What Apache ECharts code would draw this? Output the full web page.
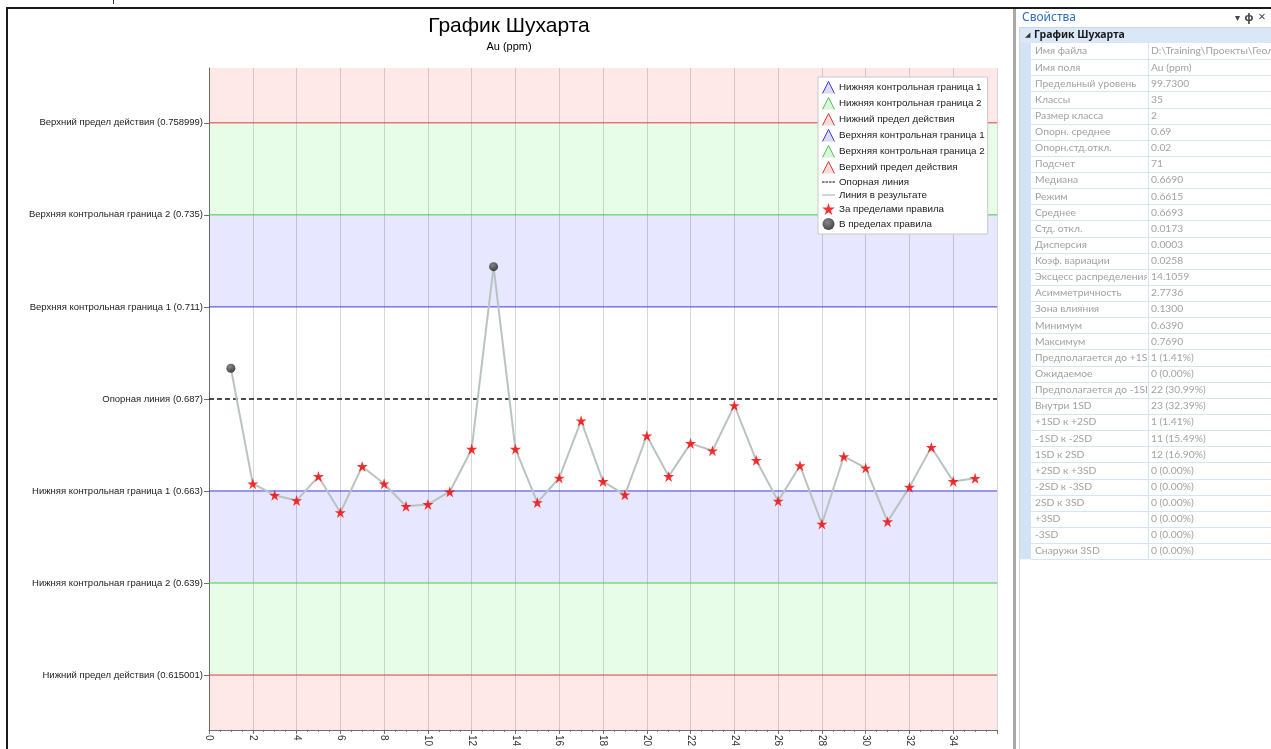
<!DOCTYPE html>
<html>
<head>
<meta charset="utf-8">
<title>График Шухарта</title>
<script src="https://cdn.jsdelivr.net/npm/echarts@6/dist/echarts.min.js"></script>
<style>
  html, body { margin: 0; padding: 0; background: #fff; }
  #chart { width: 1271px; height: 749px; }
</style>
</head>
<body>
<div id="chart"></div>
<script>
// ---- Data ----
const classes = [1, 2, 3, 4, 5, 6, 7, 8, 9, 10, 11, 12, 13, 14, 15, 16, 17, 18,
  19, 20, 21, 22, 23, 24, 25, 26, 27, 28, 29, 30, 31, 32, 33, 34, 35];
const auValues = [0.6950, 0.6649, 0.6619, 0.6605, 0.6668, 0.6574, 0.6694, 0.6649,
  0.6590, 0.6595, 0.6628, 0.6739, 0.7215, 0.6739, 0.6600, 0.6664, 0.6813, 0.6655,
  0.6620, 0.6774, 0.6668, 0.6754, 0.6735, 0.6853, 0.6710, 0.6604, 0.6696, 0.6544,
  0.6720, 0.6690, 0.6550, 0.6640, 0.6744, 0.6655, 0.6663];
// classes whose points satisfy the rule (drawn as dark circles)
const withinRuleClasses = [1, 13];

const referenceValue = 0.687;
const limitNames = ['Верхний предел действия', 'Верхняя контрольная граница 2',
  'Верхняя контрольная граница 1', 'Опорная линия', 'Нижняя контрольная граница 1',
  'Нижняя контрольная граница 2', 'Нижний предел действия'];
const limitValues = [0.758999, 0.735, 0.711, 0.687, 0.663, 0.639, 0.615001];
const limitValueText = ['0.758999', '0.735', '0.711', '0.687', '0.663', '0.639', '0.615001'];

const legendNames = ['Нижняя контрольная граница 1', 'Нижняя контрольная граница 2',
  'Нижний предел действия', 'Верхняя контрольная граница 1', 'Верхняя контрольная граница 2',
  'Верхний предел действия', 'Опорная линия', 'Линия в результате',
  'За пределами правила', 'В пределах правила'];

const propNames = ['Имя файла', 'Имя поля', 'Предельный уровень', 'Классы', 'Размер класса',
  'Опорн. среднее', 'Опорн.стд.откл.', 'Подсчет', 'Медиана', 'Режим', 'Среднее',
  'Стд. откл.', 'Дисперсия', 'Коэф. вариации', 'Эксцесс распределения', 'Асимметричность',
  'Зона влияния', 'Минимум', 'Максимум', 'Предполагается до +1SD', 'Ожидаемое',
  'Предполагается до -1SD', 'Внутри 1SD', '+1SD к +2SD', '-1SD к -2SD', '1SD к 2SD',
  '+2SD к +3SD', '-2SD к -3SD', '2SD к 3SD', '+3SD', '-3SD', 'Снаружи 3SD'];
const propValues = ['D:\\Training\\Проекты\\Геология\\Au.csv', 'Au (ppm)', '99.7300', '35', '2',
  '0.69', '0.02', '71', '0.6690', '0.6615', '0.6693', '0.0173', '0.0003', '0.0258',
  '14.1059', '2.7736', '0.1300', '0.6390', '0.7690', '1 (1.41%)', '0 (0.00%)',
  '22 (30.99%)', '23 (32.39%)', '1 (1.41%)', '11 (15.49%)', '12 (16.90%)', '0 (0.00%)',
  '0 (0.00%)', '0 (0.00%)', '0 (0.00%)', '0 (0.00%)', '0 (0.00%)'];

// ---- Styling ----
const X_MIN = 0, X_MAX = 36;
const Y_MIN = 0.6007, Y_MAX = 0.7733;
const BLUE = '#3c3cdc', GREEN = '#4cc84c', RED = '#dc3c3c';
const BAND_RED = 'rgba(255,0,0,0.09)';
const BAND_GREEN = 'rgba(0,230,0,0.09)';
const BAND_BLUE = 'rgba(0,0,255,0.095)';
const STAR = 'path://M50,0L61.2,34.5L97.6,34.5L68.2,55.9L79.4,90.5L50,69.1L20.6,90.5L31.8,55.9L2.4,34.5L38.8,34.5Z';
const CHEVRON = 'path://M0,10L5,0L10,10';
const DASHES = 'path://M0,0h3v1h-3zM4,0h3v1h-3zM8,0h3v1h-3zM12,0h3v1h-3z';
const BAR = 'path://M0,0h15v1.3h-15z';
const FONT = '"Liberation Sans", Arial, sans-serif';
const UI_FONT = 'Lato, "Noto Sans", sans-serif';

const lineStyleOf = {
  'Нижняя контрольная граница 1': [0.663, BLUE],
  'Нижняя контрольная граница 2': [0.639, GREEN],
  'Нижний предел действия': [0.615001, RED],
  'Верхняя контрольная граница 1': [0.711, BLUE],
  'Верхняя контрольная граница 2': [0.735, GREEN],
  'Верхний предел действия': [0.758999, RED]
};

const withinSet = new Set(withinRuleClasses);
const resultPoints = classes.map((c, i) => [c, auValues[i]]);
const outsidePoints = resultPoints.filter(p => !withinSet.has(p[0]));
const insidePoints = resultPoints.filter(p => withinSet.has(p[0]));

const series = [];
// coloured zones between the limits
series.push({
  type: 'line', data: [], z: 1, silent: true,
  markArea: {
    silent: true,
    itemStyle: { borderWidth: 0 },
    data: [
      [{ yAxis: 0.758999, itemStyle: { color: BAND_RED } }, { yAxis: Y_MAX }],
      [{ yAxis: 0.735, itemStyle: { color: BAND_GREEN } }, { yAxis: 0.758999 }],
      [{ yAxis: 0.711, itemStyle: { color: BAND_BLUE } }, { yAxis: 0.735 }],
      [{ yAxis: 0.639, itemStyle: { color: BAND_BLUE } }, { yAxis: 0.663 }],
      [{ yAxis: 0.615001, itemStyle: { color: BAND_GREEN } }, { yAxis: 0.639 }],
      [{ yAxis: Y_MIN, itemStyle: { color: BAND_RED } }, { yAxis: 0.615001 }]
    ]
  }
});
Object.keys(lineStyleOf).forEach(name => {
  const [v, col] = lineStyleOf[name];
  series.push({
    name, type: 'line', z: 3, symbol: 'none', silent: true,
    data: [[X_MIN, v], [X_MAX, v]],
    lineStyle: { color: col, width: 1 },
    itemStyle: { color: col }
  });
});
series.push({
  name: 'Опорная линия', type: 'line', z: 4, symbol: 'none', silent: true,
  data: [[X_MIN, referenceValue], [X_MAX, referenceValue]],
  lineStyle: { color: '#111', width: 1.6, type: [5, 3] },
  itemStyle: { color: '#111' }
});
series.push({
  name: 'Линия в результате', type: 'line', z: 5, symbol: 'none', silent: true,
  data: resultPoints,
  lineStyle: { color: '#b9c4c1', width: 2 },
  itemStyle: { color: '#b9c4c1' }
});
series.push({
  name: 'За пределами правила', type: 'scatter', z: 6, silent: true,
  symbol: STAR, symbolSize: 11,
  data: outsidePoints,
  itemStyle: { color: '#f20000' }
});
series.push({
  name: 'В пределах правила', type: 'scatter', z: 6, silent: true,
  symbol: 'circle', symbolSize: 9,
  data: insidePoints,
  itemStyle: {
    color: {
      type: 'radial', x: 0.4, y: 0.35, r: 0.7,
      colorStops: [{ offset: 0, color: '#6a6a6a' }, { offset: 1, color: '#141414' }]
    }
  }
});

const legendData = legendNames.map(name => {
  if (lineStyleOf[name]) {
    const col = lineStyleOf[name][1];
    return { name, icon: CHEVRON, itemStyle: { color: col + '30', borderColor: col, borderWidth: 1 } };
  }
  if (name === 'Опорная линия') return { name, icon: DASHES, itemStyle: { color: '#111', borderWidth: 0 } };
  if (name === 'Линия в результате') return { name, icon: BAR, itemStyle: { color: '#a9b6b2', borderWidth: 0 } };
  if (name === 'За пределами правила') return { name, icon: STAR, itemStyle: { color: '#f20000' } };
  return { name, icon: 'circle' };
});

// ---- Frame, title and the properties panel ----
const graphics = [];
graphics.push({ type: 'text', x: 509, y: 26, z: 10,
  style: { text: 'График Шухарта', font: '21px ' + FONT, fill: '#000', align: 'center', verticalAlign: 'middle' } });
graphics.push({ type: 'text', x: 509, y: 47, z: 10,
  style: { text: 'Au (ppm)', font: '11px ' + FONT, fill: '#000', align: 'center', verticalAlign: 'middle' } });
graphics.push({ type: 'line', z: 10, shape: { x1: 6, y1: 8, x2: 1271, y2: 8 }, style: { stroke: '#1a1a1a', lineWidth: 2 } });
graphics.push({ type: 'line', z: 10, shape: { x1: 7, y1: 8, x2: 7, y2: 749 }, style: { stroke: '#1a1a1a', lineWidth: 2 } });
graphics.push({ type: 'line', z: 10, shape: { x1: 113.5, y1: 0, x2: 113.5, y2: 4 }, style: { stroke: '#333', lineWidth: 1 } });
// splitter
graphics.push({ type: 'rect', z: 10, shape: { x: 1013, y: 9, width: 3, height: 740 }, style: { fill: '#a9a9a9' } });
graphics.push({ type: 'line', z: 10, shape: { x1: 1019.5, y1: 27, x2: 1019.5, y2: 749 }, style: { stroke: '#d4d4d4', lineWidth: 1 } });
// header
graphics.push({ type: 'text', z: 11, x: 1022, y: 18,
  style: { text: 'Свойства', font: '12px "Noto Sans", sans-serif', fill: '#2c6fbd', verticalAlign: 'middle' } });
graphics.push({ type: 'text', z: 11, x: 1237, y: 18,
  style: { text: '▾', font: '10px "Noto Sans", sans-serif', fill: '#444', align: 'center', verticalAlign: 'middle' } });
graphics.push({ type: 'text', z: 11, x: 1249, y: 18,
  style: { text: 'ф', font: 'bold 11px "Noto Sans", sans-serif', fill: '#444', align: 'center', verticalAlign: 'middle' } });
graphics.push({ type: 'text', z: 11, x: 1262, y: 17,
  style: { text: '×', font: '13px "Noto Sans", sans-serif', fill: '#444', align: 'center', verticalAlign: 'middle' } });
// category row
graphics.push({ type: 'rect', z: 10, shape: { x: 1020, y: 27, width: 251, height: 16 }, style: { fill: '#d9e7f6' } });
graphics.push({ type: 'line', z: 10, shape: { x1: 1020, y1: 27.5, x2: 1271, y2: 27.5 }, style: { stroke: '#c6d9ee', lineWidth: 1 } });
graphics.push({ type: 'text', z: 11, x: 1025, y: 35,
  style: { text: '◢', font: '7px "Noto Sans", sans-serif', fill: '#333', verticalAlign: 'middle' } });
graphics.push({ type: 'text', z: 11, x: 1034, y: 35,
  style: { text: 'График Шухарта', font: 'bold 10.5px "Noto Sans", sans-serif', fill: '#1a1a1a', verticalAlign: 'middle' } });
// property rows: names at z 11, value cells (white) drawn over any overflowing name text
const ROW_TOP = 43, ROW_H = 16.13;
const rowsBottom = ROW_TOP + propNames.length * ROW_H;
graphics.push({ type: 'rect', z: 10, shape: { x: 1020, y: ROW_TOP, width: 11, height: rowsBottom - ROW_TOP }, style: { fill: '#d2e3f5' } });
graphics.push({ type: 'rect', z: 12, shape: { x: 1147, y: ROW_TOP, width: 124, height: rowsBottom - ROW_TOP }, style: { fill: '#fff' } });
propNames.forEach((name, i) => {
  const y = ROW_TOP + i * ROW_H;
  graphics.push({ type: 'line', z: 13, shape: { x1: 1031, y1: Math.round(y + ROW_H) + 0.5, x2: 1271, y2: Math.round(y + ROW_H) + 0.5 },
    style: { stroke: '#d6e5f4', lineWidth: 1 } });
  graphics.push({ type: 'text', z: 11, x: 1035, y: y + ROW_H / 2,
    style: { text: name, font: '10.3px ' + UI_FONT, fill: '#a2a2a2', verticalAlign: 'middle' } });
  graphics.push({ type: 'text', z: 14, x: 1151, y: y + ROW_H / 2,
    style: { text: propValues[i], font: '10.3px ' + UI_FONT, fill: '#a2a2a2', verticalAlign: 'middle' } });
});
graphics.push({ type: 'line', z: 13, shape: { x1: 1148.5, y1: ROW_TOP, x2: 1148.5, y2: rowsBottom }, style: { stroke: '#d6e5f4', lineWidth: 1 } });

const option = {
  animation: false,
  backgroundColor: '#fff',
  textStyle: { fontFamily: FONT },
  grid: { left: 209, right: 274, top: 68, bottom: 18, containLabel: false },
  legend: {
    orient: 'vertical', left: 818, top: 77,
    padding: [4, 3, 4, 4], itemGap: 3, itemWidth: 13, itemHeight: 12,
    backgroundColor: '#fff', borderColor: '#c9c9c9', borderWidth: 1,
    selectedMode: false,
    textStyle: { fontSize: 9.8, color: '#1a1a1a', fontFamily: FONT, padding: [0, 0, 0, -1] },
    data: legendData
  },
  xAxis: {
    type: 'value', min: X_MIN, max: X_MAX, interval: 2,
    axisLine: { show: true, onZero: false, lineStyle: { color: '#6e6e6e', width: 1 } },
    axisTick: { show: true, length: 4, lineStyle: { color: '#6e6e6e' } },
    minorTick: { show: true, splitNumber: 4, length: 2, lineStyle: { color: '#6e6e6e' } },
    splitLine: { show: true, lineStyle: { color: '#d6d6dc', width: 1 } },
    axisLabel: { rotate: -90, fontSize: 10, color: '#333', margin: 5, showMaxLabel: false, fontFamily: FONT }
  },
  yAxis: {
    type: 'value', min: Y_MIN, max: Y_MAX,
    axisLine: { show: true, lineStyle: { color: '#6e6e6e', width: 1 } },
    axisTick: { show: true, length: 5, customValues: limitValues, lineStyle: { color: '#6e6e6e' } },
    splitLine: { show: false },
    axisLabel: {
      customValues: limitValues, fontSize: 9.5, color: '#222', margin: 6, fontFamily: FONT,
      formatter: v => {
        const i = limitValues.findIndex(l => Math.abs(l - v) < 1e-6);
        return i < 0 ? '' : limitNames[i] + ' (' + limitValueText[i] + ')';
      }
    }
  },
  series,
  graphic: graphics
};

const chart = echarts.init(document.getElementById('chart'), null, { renderer: 'canvas' });
chart.setOption(option);
</script>
</body>
</html>
